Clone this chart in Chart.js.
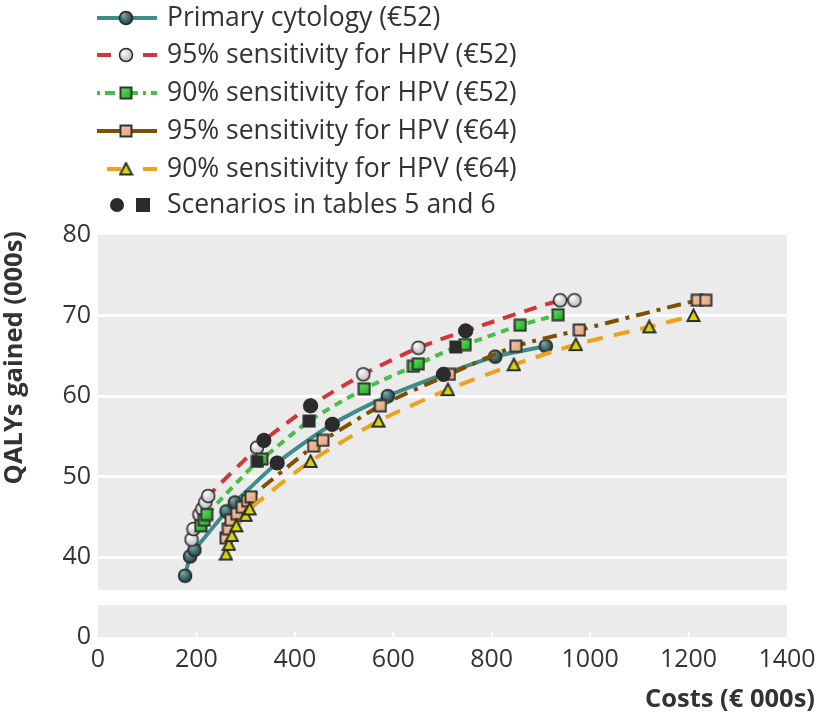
<!DOCTYPE html>
<html>
<head>
<meta charset="utf-8">
<script src="https://cdn.jsdelivr.net/npm/chart.js@4.4.1/dist/chart.umd.min.js"></script>
<style>
body { margin: 0; background: #fff; }
#chart { display: block; }
</style>
</head>
<body>
<canvas id="chart" width="824" height="724"></canvas>
<script>
// costs in EUR 000s, QALYs gained in 000s
var cytoCost = [177, 187, 196, 261, 278, 364, 476, 589, 702, 807, 910];
var cytoQaly = [37.7, 40.1, 40.9, 45.7, 46.8, 51.7, 56.5, 60.0, 62.7, 64.9, 66.2];

var hpv95c52Cost = [190, 194, 206, 212, 218, 224, 323, 337, 432, 539, 651, 747, 939, 968];
var hpv95c52Qaly = [42.2, 43.5, 45.3, 46.0, 46.8, 47.6, 53.6, 54.5, 58.8, 62.7, 66.0, 68.1, 71.9, 71.9];

var hpv90c52Cost = [209, 216, 221, 324, 333, 429, 541, 641, 651, 727, 746, 858, 935];
var hpv90c52Qaly = [43.9, 44.6, 45.3, 51.9, 52.2, 56.9, 60.9, 63.7, 64.0, 66.1, 66.4, 68.8, 70.1];

var hpv95c64Cost = [260, 265, 270, 282, 293, 304, 311, 438, 457, 574, 714, 849, 978, 1218, 1235];
var hpv95c64Qaly = [42.4, 43.5, 44.6, 45.4, 46.2, 47.0, 47.5, 53.8, 54.5, 58.8, 62.7, 66.2, 68.2, 71.9, 71.9];

var hpv90c64Cost = [260, 266, 272, 281, 300, 308, 432, 570, 711, 845, 971, 1120, 1210];
var hpv90c64Qaly = [40.4, 41.6, 42.7, 43.9, 45.2, 46.0, 51.9, 56.9, 60.8, 63.9, 66.4, 68.6, 70.0];

// scenarios in tables 5 and 6
var scenCircleCost = [364, 476, 702, 337, 432, 747];
var scenCircleQaly = [51.7, 56.5, 62.7, 54.5, 58.8, 68.1];
var scenSquareCost = [324, 429, 727];
var scenSquareQaly = [51.9, 56.9, 66.1];

var legendLabels = [
    "Primary cytology (€52)",
    "95% sensitivity for HPV (€52)",
    "90% sensitivity for HPV (€52)",
    "95% sensitivity for HPV (€64)",
    "90% sensitivity for HPV (€64)",
    "Scenarios in tables 5 and 6"
];
var yTicks = [40, 50, 60, 70, 80];
var yBreakLow = 30.1;   // where the "0" of the broken axis sits

var textColor = "#333333";
var fontName = "'Open Sans', sans-serif";
Chart.defaults.font.family = fontName;
Chart.defaults.color = textColor;

function points(xs, ys)
{
    var out = [];
    for (let i = 0; i < xs.length; i++) out.push({x: xs[i], y: ys[i]});
    return out;
}

function markerCanvas(size)
{
    var c = document.createElement("canvas");
    c.width = size;
    c.height = size;
    return c;
}

function sphere(r, light, dark)
{
    var c = markerCanvas(2 * r + 2);
    var g = c.getContext("2d");
    var grad = g.createRadialGradient(r * 0.75, r * 0.65, 0.5, r + 1, r + 1, r);
    grad.addColorStop(0, light);
    grad.addColorStop(1, dark);
    g.beginPath();
    g.arc(r + 1, r + 1, r - 0.5, 0, Math.PI * 2);
    g.fillStyle = grad;
    g.fill();
    g.lineWidth = 1.5;
    g.strokeStyle = "#2a2a2a";
    g.stroke();
    return c;
}

function square(s, fill1, fill2)
{
    var c = markerCanvas(s + 2);
    var g = c.getContext("2d");
    var grad = g.createLinearGradient(0, 0, s, s);
    grad.addColorStop(0, fill1);
    grad.addColorStop(1, fill2);
    g.fillStyle = grad;
    g.fillRect(1.5, 1.5, s - 1, s - 1);
    g.lineWidth = 2;
    g.strokeStyle = "#333";
    g.strokeRect(1.5, 1.5, s - 1, s - 1);
    return c;
}

function triangle(s)
{
    var c = markerCanvas(s + 2);
    var g = c.getContext("2d");
    g.beginPath();
    g.moveTo(s / 2 + 1, 1.5);
    g.lineTo(s + 0.5, s);
    g.lineTo(1.5, s);
    g.closePath();
    g.fillStyle = "#d6d600";
    g.fill();
    g.lineWidth = 2;
    g.strokeStyle = "#2d2d2d";
    g.lineJoin = "miter";
    g.stroke();
    return c;
}

var tealBall = sphere(7, "#7fa9aa", "#173a3c");
var whiteBall = sphere(7, "#ffffff", "#b8b8b8");
var greenBox = square(12, "#66ee66", "#22aa22");
var salmonBox = square(12, "#f8cfae", "#e0a478");
var yellowTri = triangle(13);

var series = [
    {label: legendLabels[0], data: points(cytoCost, cytoQaly), color: "#3e8b8a", dash: [], legendDash: [], marker: tealBall},
    {label: legendLabels[1], data: points(hpv95c52Cost, hpv95c52Qaly), color: "#d2363a", dash: [13, 9], legendDash: [14, 32], marker: whiteBall},
    {label: legendLabels[2], data: points(hpv90c52Cost, hpv90c52Qaly), color: "#46bf46", dash: [8, 6], legendDash: [3, 5, 10, 5], marker: greenBox},
    {label: legendLabels[3], data: points(hpv95c64Cost, hpv95c64Qaly), color: "#7d5100", dash: [14, 7, 4, 7], legendDash: [], marker: salmonBox},
    {label: legendLabels[4], data: points(hpv90c64Cost, hpv90c64Qaly), color: "#eea21c", dash: [16, 11], legendDash: [14, 22], marker: yellowTri}
];

var datasets = [];
series.forEach(function (s, i) {
    datasets.push({
        label: s.label,
        data: s.data,
        borderColor: s.color,
        borderWidth: 4,
        borderDash: s.dash,
        pointStyle: s.marker,
        pointRadius: 7,
        tension: 0.25,
        fill: false,
        order: 5 - i
    });
});
datasets.push({
    label: "scenario circles",
    data: points(scenCircleCost, scenCircleQaly),
    showLine: false,
    pointStyle: "circle",
    pointRadius: 7,
    pointBackgroundColor: "#2b2b2b",
    pointBorderColor: "#2b2b2b",
    order: 0
});
datasets.push({
    label: "scenario squares",
    data: points(scenSquareCost, scenSquareQaly),
    showLine: false,
    pointStyle: "rect",
    pointRadius: 7.5,
    pointBackgroundColor: "#2b2b2b",
    pointBorderColor: "#2b2b2b",
    order: 0
});

// grey panels of the broken axis, titles and the legend
var extras = {
    id: "extras",
    beforeDraw: function (chart) {
        var ctx = chart.ctx;
        var a = chart.chartArea;
        var y = chart.scales.y;
        var upperBottom = y.getPixelForValue(35.94);
        var lowerTop = y.getPixelForValue(34.07);
        ctx.save();
        ctx.fillStyle = "#ebebeb";
        ctx.fillRect(a.left, a.top, a.right - a.left, upperBottom - a.top);
        ctx.fillRect(a.left, lowerTop, a.right - a.left, a.bottom - lowerTop);
        ctx.restore();
    },
    afterDraw: function (chart) {
        var ctx = chart.ctx;
        var a = chart.chartArea;
        var x = chart.scales.x;
        ctx.save();
        // little white ticks inside the bottom panel
        ctx.strokeStyle = "#ffffff";
        ctx.lineWidth = 2;
        x.ticks.forEach(function (t) {
            var px = x.getPixelForValue(t.value);
            if (t.value == 0 || t.value == 1400) return;
            ctx.beginPath();
            ctx.moveTo(px, a.bottom);
            ctx.lineTo(px, a.bottom - 5);
            ctx.stroke();
        });

        ctx.fillStyle = textColor;
        ctx.font = "bold 25.5px " + fontName;
        ctx.textBaseline = "middle";
        ctx.textAlign = "right";
        ctx.fillText("Costs (€ 000s)", 815, 700);
        ctx.save();
        ctx.translate(15, 231);
        ctx.rotate(-Math.PI / 2);
        ctx.fillText("QALYs gained (000s)", 0, 0);
        ctx.restore();

        // legend
        var rows = [18, 55, 93, 131, 169, 205];
        ctx.font = "26.5px " + fontName;
        ctx.textAlign = "left";
        series.forEach(function (s, i) {
            var ry = rows[i];
            ctx.strokeStyle = s.color;
            ctx.lineWidth = 4;
            ctx.setLineDash(s.legendDash);
            ctx.beginPath();
            ctx.moveTo(i == 4 ? 107 : 97, ry);
            ctx.lineTo(157, ry);
            ctx.stroke();
            ctx.setLineDash([]);
            var m = s.marker;
            ctx.drawImage(m, 126 - m.width / 2, ry - m.height / 2);
            ctx.fillStyle = textColor;
            ctx.fillText(legendLabels[i], 167, ry);
        });
        ctx.fillStyle = "#2b2b2b";
        ctx.beginPath();
        ctx.arc(117, rows[5], 7, 0, Math.PI * 2);
        ctx.fill();
        ctx.fillRect(136, rows[5] - 7, 14, 14);
        ctx.fillStyle = textColor;
        ctx.fillText(legendLabels[5], 167, rows[5]);
        ctx.restore();
    }
};

var chart = new Chart(document.getElementById("chart"), {
    type: "line",
    data: {datasets: datasets},
    plugins: [extras],
    options: {
        responsive: false,
        animation: false,
        layout: {padding: {top: 235, right: 37, left: 0, bottom: 0}},
        plugins: {legend: {display: false}, tooltip: {enabled: false}},
        scales: {
            x: {
                type: "linear",
                min: 0,
                max: 1400,
                ticks: {
                    stepSize: 200,
                    font: {size: 25},
                    color: textColor,
                    padding: 0,
                    callback: function (v) { return String(v); }
                },
                grid: {display: false},
                border: {display: false},
                afterFit: function (s) { s.height = 87; }
            },
            y: {
                type: "linear",
                min: yBreakLow,
                max: 80,
                afterBuildTicks: function (s) {
                    s.ticks = [yBreakLow].concat(yTicks).map(function (v) { return {value: v}; });
                },
                ticks: {
                    font: {size: 25},
                    color: textColor,
                    padding: 7,
                    callback: function (v) { return v < 35 ? "0" : String(v); }
                },
                grid: {
                    color: function (c) { return c.tick && c.tick.value > 35 && c.tick.value < 80 ? "#ffffff" : "rgba(0,0,0,0)"; },
                    lineWidth: 3,
                    drawTicks: false
                },
                border: {display: false},
                afterFit: function (s) { s.width = 98; }
            }
        }
    }
});
</script>
</body>
</html>
